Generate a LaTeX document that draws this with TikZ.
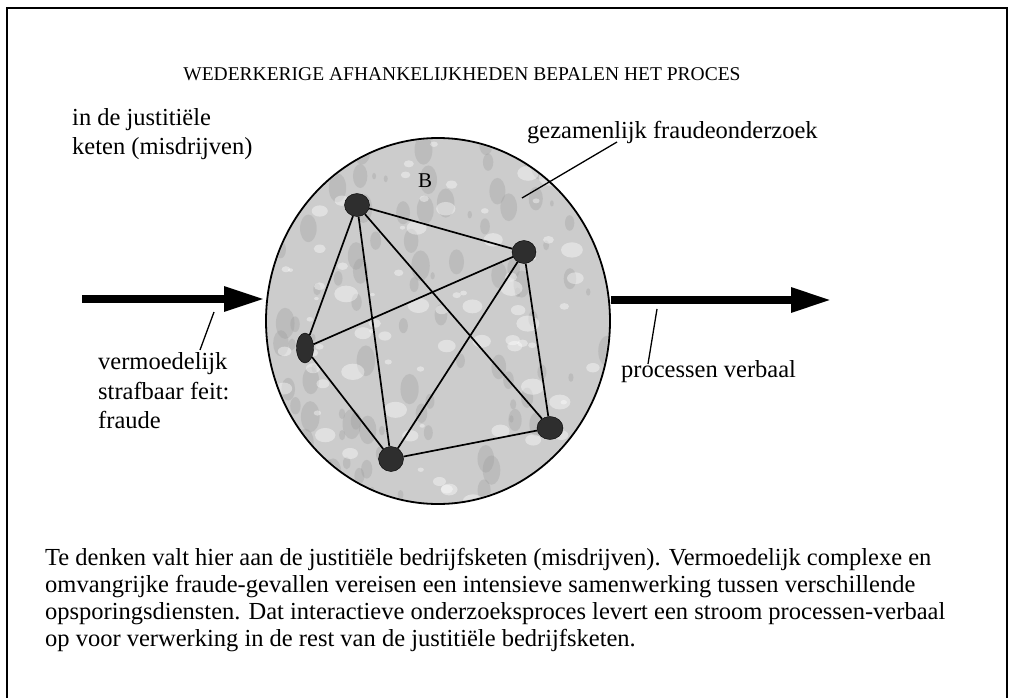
\documentclass[tikz,border=0pt]{standalone}
\usepackage{fontspec}
\setmainfont{Liberation Serif}
\usetikzlibrary{arrows.meta,shapes.geometric}
\begin{document}
\begin{tikzpicture}[x=1pt,y=-1pt,
  lbl/.style={font=\fontsize{24.5}{29.5}\selectfont, inner sep=0pt, align=left},
  actor/.style={ellipse, fill=black!82, draw=black, minimum width=25pt, minimum height=23pt, inner sep=0pt},
  link/.style={line width=1.7pt},
  leader/.style={line width=1.3pt},
  bigarrow/.style={line width=8.5pt, -{Triangle[length=41pt,width=23pt]}},
]
\useasboundingbox (0,0) rectangle (1010,698);
% frame
\draw[line width=2.5pt] (7,698) -- (7,8) -- (1007,8) -- (1007,698);

% title
\node[font=\fontsize{19.5}{19.5}\selectfont, inner sep=0pt] (title) at (462,74) {WEDERKERIGE AFHANKELIJKHEDEN BEPALEN HET PROCES};

% ellipse
\node[ellipse, draw, line width=1.8pt, fill=black!20, minimum width=344pt, minimum height=366pt, inner sep=0pt] (circ) at (438,321) {};
\begin{scope}
  \clip (438,321) ellipse [x radius=170.5, y radius=181.5];
  \pgfmathsetseed{7}
  \foreach \i in {1,...,110} {
    \pgfmathsetmacro\bx{438+rnd*340-170}
    \pgfmathsetmacro\by{321+rnd*366-183}
    \pgfmathsetmacro\br{3+rnd*13}
    \fill[black!40, opacity=0.3] (\bx,\by) ellipse [x radius=0.6*\br, y radius=\br];
  }
  \foreach \i in {1,...,90} {
    \pgfmathsetmacro\bx{438+rnd*340-170}
    \pgfmathsetmacro\by{321+rnd*366-183}
    \pgfmathsetmacro\br{2+rnd*10}
    \fill[white, opacity=0.4] (\bx,\by) ellipse [x radius=\br, y radius=0.7*\br];
  }
\end{scope}

\node[font=\fontsize{21}{21}\selectfont, inner sep=0pt] (blbl) at (425,181) {B};

% actors
\node[actor] (n1) at (357,205) {};
\node[actor, minimum width=24pt] (n2) at (524,252) {};
\node[actor, minimum width=17pt, minimum height=30pt] (n3) at (305,348) {};
\node[actor, minimum height=25pt] (n4) at (391,459) {};
\node[actor, minimum width=26pt] (n5) at (550,428) {};
\foreach \a/\b in {n1/n2,n1/n3,n1/n4,n1/n5,n2/n3,n2/n4,n2/n5,n3/n4,n4/n5}
  \draw[link] (\a) -- (\b);

% arrows
\coordinate (inStart) at (82,299);
\coordinate (outEnd) at (832,300);
\draw[bigarrow] (inStart) -- (inStart -| circ.west);
\draw[bigarrow] (outEnd -| circ.east) -- (outEnd);

% labels
\node[lbl, anchor=west] (keten) at (72,134) {in de justitiële\\keten (misdrijven)};
\node[lbl, anchor=west] (gez) at (527,133) {gezamenlijk fraudeonderzoek};
\node[lbl, anchor=west] (verm) at (98,391) {vermoedelijk\\strafbaar feit:\\fraude};
\node[lbl, anchor=west] (pv) at (621,372) {processen verbaal};

% leaders
\coordinate (gzA) at (617,142);
\coordinate (gzB) at (522,198);
\draw[leader] (gzA) -- (gzB);
\coordinate (vmA) at (200,350);
\coordinate (vmB) at (214,312);
\draw[leader] (vmA) -- (vmB);
\coordinate (pvA) at (648,364);
\coordinate (pvB) at (657,309);
\draw[leader] (pvA) -- (pvB);

% paragraph
\node[font=\fontsize{24.5}{27}\selectfont, inner sep=0pt, anchor=north west, align=left] (para) at (45,548)
{Te denken valt hier aan de justitiële bedrijfsketen (misdrijven). Vermoedelijk complexe en\\
omvangrijke fraude-gevallen vereisen een intensieve samenwerking tussen verschillende\\
opsporingsdiensten. Dat interactieve onderzoeksproces levert een stroom processen-verbaal\\
op voor verwerking in de rest van de justitiële bedrijfsketen.};
\end{tikzpicture}
\end{document}
